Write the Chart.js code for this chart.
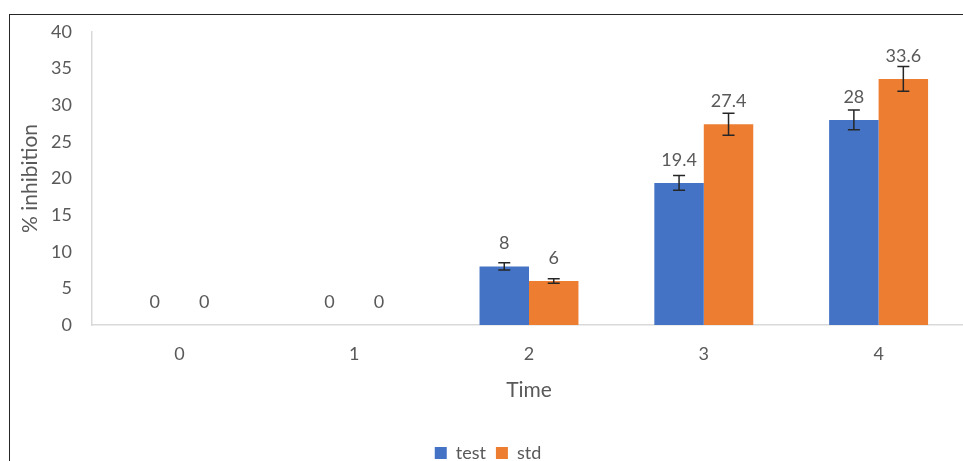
<!DOCTYPE html>
<html>
<head>
<meta charset="utf-8">
<script src="https://cdn.jsdelivr.net/npm/chart.js@4"></script>
<style>
  html, body { margin: 0; padding: 0; background: #fff; overflow: hidden; }
  #wrap { position: relative; width: 975px; height: 480px; }
</style>
</head>
<body>
<div id="wrap"><canvas id="chart"></canvas></div>
<script>
const times = ['0', '1', '2', '3', '4'];
const testValues = [0, 0, 8, 19.4, 28];
const stdValues = [0, 0, 6, 27.4, 33.6];
const testErrors = [0, 0, 0.5, 1.0, 1.35];
const stdErrors = [0, 0, 0.3, 1.5, 1.7];
const yTicks = [0, 5, 10, 15, 20, 25, 30, 35, 40];

const grey = '#595959';
const font = 'Lato, "Open Sans", sans-serif';

// frame, error bars and value labels
const extras = {
  id: 'extras',
  beforeDraw(chart) {
    const ctx = chart.ctx;
    ctx.save();
    ctx.strokeStyle = '#262626';
    ctx.lineWidth = 1;
    ctx.strokeRect(9.5, 14.5, 2000, 2000);
    ctx.restore();
  },
  afterDatasetsDraw(chart) {
    const ctx = chart.ctx;
    const y = chart.scales.y;
    const errs = [testErrors, stdErrors];
    ctx.save();
    chart.data.datasets.forEach((ds, i) => {
      chart.getDatasetMeta(i).data.forEach((bar, j) => {
        const v = ds.data[j];
        const e = errs[i][j];
        if (e > 0) {
          const top = y.getPixelForValue(v + e);
          const bot = y.getPixelForValue(v - e);
          ctx.strokeStyle = '#262626';
          ctx.lineWidth = 1.5;
          ctx.beginPath();
          ctx.moveTo(bar.x, top); ctx.lineTo(bar.x, bot);
          ctx.moveTo(bar.x - 6, top); ctx.lineTo(bar.x + 6, top);
          ctx.moveTo(bar.x - 6, bot); ctx.lineTo(bar.x + 6, bot);
          ctx.stroke();
        }
        ctx.fillStyle = grey;
        ctx.font = '18px ' + font;
        ctx.textAlign = 'center';
        ctx.textBaseline = 'middle';
        ctx.fillText(String(v), bar.x, y.getPixelForValue(v) - 23);
      });
    });
    ctx.restore();
  }
};

new Chart(document.getElementById('chart'), {
  type: 'bar',
  data: {
    labels: times,
    datasets: [
      { label: 'test', data: testValues, backgroundColor: '#4472C4' },
      { label: 'std', data: stdValues, backgroundColor: '#ED7D31' }
    ]
  },
  options: {
    responsive: true,
    maintainAspectRatio: false,
    animation: false,
    devicePixelRatio: 1,
    layout: { padding: { left: 10, top: 32, right: 9, bottom: 8 } },
    datasets: { bar: { barPercentage: 1, categoryPercentage: 0.566 } },
    plugins: {
      tooltip: { enabled: false },
      legend: {
        position: 'bottom',
        labels: { boxWidth: 12, boxHeight: 12, padding: 10, color: grey, font: { family: font, size: 18 } }
      }
    },
    scales: {
      x: {
        grid: { display: false, drawTicks: false },
        border: { display: true, color: '#d9d9d9', width: 1.5 },
        ticks: { color: grey, padding: 18, font: { family: font, size: 18 } },
        title: { display: true, text: 'Time', color: grey, padding: { top: 0, bottom: 31 }, font: { family: font, size: 21 } },
        afterFit: s => { s.height = 109; }
      },
      y: {
        min: 0, max: 40,
        grid: { display: false, drawTicks: false },
        border: { display: true, color: '#d9d9d9', width: 1.5 },
        afterBuildTicks: s => { s.ticks = yTicks.map(v => ({ value: v })); },
        ticks: { color: grey, padding: 20, font: { family: font, size: 18 } },
        title: { display: true, text: '% inhibition', color: grey, padding: { top: 8, bottom: 0 }, font: { family: font, size: 21 } },
        afterFit: s => { s.width = 82; }
      }
    }
  },
  plugins: [extras]
});
</script>
</body>
</html>
